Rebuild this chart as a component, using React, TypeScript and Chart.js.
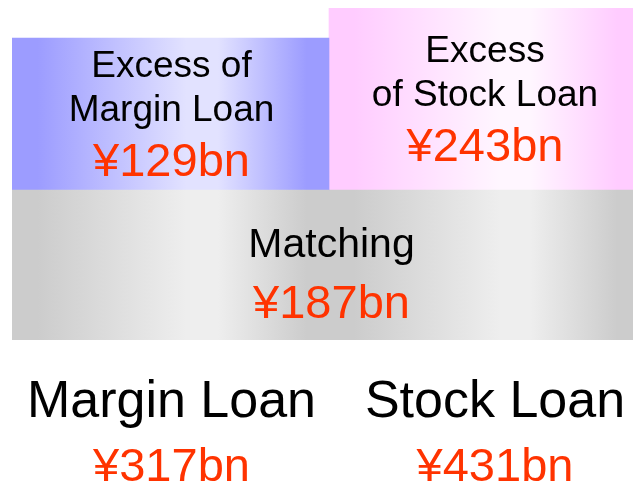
import React, { useEffect, useRef } from "react";
import { Chart, registerables } from "chart.js";

Chart.register(...registerables);

// ---- data ----
const categories = ["Margin Loan", "Stock Loan"];
const totalAmounts = [317, 431];
const matchingAmount = 187;
const excessAmounts = [129, 243];
const excessTitles = [
  ["Excess of", "Margin Loan"],
  ["Excess", "of Stock Loan"],
];
const matchingTitle = "Matching";
// block heights as drawn in the diagram (relative units, the diagram is not to scale)
const matchingHeights = [150, 150];
const excessHeights = [152, 182];

// ---- styles ----
const FONT = "'Liberation Sans', Arial, Helvetica, sans-serif";
const RED = "#ff3300";
const columnWidths = [317, 310];
const excessEdge = ["#9c9cff", "#ffccff"];
const excessLight = ["#e2e2ff", "#fff6ff"];
const grayEdge = "#cccccc";
const grayLight = "#eeeeee";

const fmt = (v: number) => `¥${v}bn`;

function gradientFor(i: number, edge: string, light: string) {
  return (ctx: any) => {
    const chart = ctx.chart;
    const xs = chart.scales && chart.scales.x;
    if (!chart.chartArea || !xs) return edge;
    const w = columnWidths[i];
    const cx = xs.getPixelForValue(i);
    const left = cx - w / 2;
    const g = chart.ctx.createLinearGradient(left, 0, left + w, 0);
    g.addColorStop(0, edge);
    g.addColorStop(0.08, edge);
    g.addColorStop(0.55, light);
    g.addColorStop(0.65, light);
    g.addColorStop(0.93, edge);
    g.addColorStop(1, edge);
    return g;
  };
}

const labelsPlugin = {
  id: "diagramLabels",
  afterDatasetsDraw(chart: any) {
    const ctx = chart.ctx;
    ctx.save();
    ctx.textAlign = "center";
    ctx.textBaseline = "alphabetic";
    const titleDx = [1, 1];
    for (let i = 0; i < 2; i++) {
      const el = chart.getDatasetMeta(2 * i + 1).data[0];
      if (!el) continue;
      const cx = el.x + titleDx[i];
      const cy = (el.y + el.base) / 2;
      ctx.fillStyle = "#000";
      ctx.font = `37px ${FONT}`;
      ctx.fillText(excessTitles[i][0], cx, cy - 37.5);
      ctx.fillText(excessTitles[i][1], cx, cy + 6.5);
      ctx.fillStyle = RED;
      ctx.font = `47px ${FONT}`;
      ctx.fillText(fmt(excessAmounts[i]), cx, cy + 62);
    }
    const m0 = chart.getDatasetMeta(0).data[0];
    const m1 = chart.getDatasetMeta(2).data[0];
    if (m0 && m1) {
      const left = m0.x - m0.width / 2;
      const right = m1.x + m1.width / 2;
      const cx = (left + right) / 2 + 6;
      const cy = (m0.y + m0.base) / 2;
      ctx.fillStyle = "#000";
      ctx.font = `41px ${FONT}`;
      ctx.fillText(matchingTitle, cx, cy - 8);
      ctx.fillStyle = RED;
      ctx.font = `47px ${FONT}`;
      ctx.fillText(fmt(matchingAmount), cx, cy + 53);
    }
    const bottom = chart.chartArea.bottom;
    const catDx = [1, 11];
    for (let i = 0; i < 2; i++) {
      const el = chart.getDatasetMeta(2 * i).data[0];
      if (!el) continue;
      const cx = el.x + catDx[i];
      ctx.fillStyle = "#000";
      ctx.font = `52px ${FONT}`;
      ctx.fillText(categories[i], cx, bottom + 77);
      ctx.fillStyle = RED;
      ctx.font = `47px ${FONT}`;
      ctx.fillText(fmt(totalAmounts[i]), cx, bottom + 141);
    }
    ctx.restore();
  },
};

export default function App() {
  const ref = useRef<HTMLCanvasElement | null>(null);
  useEffect(() => {
    if (!ref.current) return;
    const datasets: any[] = [];
    for (let i = 0; i < 2; i++) {
      datasets.push({
        label: `${matchingTitle} ${categories[i]}`,
        data: [{ x: i, y: matchingHeights[i] }],
        backgroundColor: gradientFor(i, grayEdge, grayLight),
        borderWidth: 0,
        barThickness: columnWidths[i],
        stack: "s",
      });
      datasets.push({
        label: `Excess ${categories[i]}`,
        data: [{ x: i, y: excessHeights[i] }],
        backgroundColor: gradientFor(i, excessEdge[i], excessLight[i]),
        borderWidth: 0,
        barThickness: columnWidths[i],
        stack: "s",
      });
    }
    const chart = new Chart(ref.current, {
      type: "bar",
      data: { datasets },
      options: {
        animation: false,
        responsive: false,
        maintainAspectRatio: false,
        layout: { padding: { left: 12, right: 0, top: 8, bottom: 146 } },
        plugins: { legend: { display: false }, tooltip: { enabled: false } },
        scales: {
          x: {
            type: "linear",
            min: -0.50558,
            max: 1.47528,
            offset: false,
            bounds: "ticks",
            stacked: true,
            display: false,
          },
          y: { min: 0, max: 332, stacked: true, display: false },
        },
      },
      plugins: [labelsPlugin],
    });
    return () => chart.destroy();
  }, []);
  return (
    <div style={{ position: "absolute", left: 0, top: 0, width: 633, height: 486, background: "#fff" }}>
      <canvas ref={ref} width={633} height={486} style={{ display: "block" }} />
    </div>
  );
}
